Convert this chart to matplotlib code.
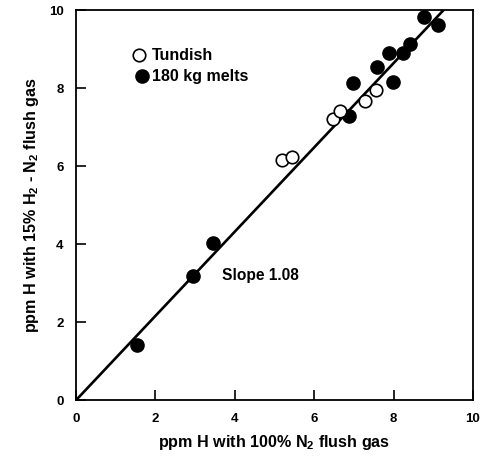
import numpy as np
import matplotlib.pyplot as plt

plt.rcParams['font.family'] = ['Liberation Sans', 'DejaVu Sans']
plt.rcParams['font.weight'] = 'bold'
plt.rcParams['mathtext.fontset'] = 'custom'
plt.rcParams['mathtext.rm'] = 'Liberation Sans:bold'
plt.rcParams['mathtext.default'] = 'rm'

# 180 kg melts (filled)
melt_x = [1.54, 2.94, 3.46, 6.88, 6.98, 7.58, 7.88, 7.98, 8.24, 8.42, 8.76, 9.12]
melt_y = [1.41, 3.18, 4.03, 7.29, 8.12, 8.55, 8.91, 8.16, 8.89, 9.12, 9.83, 9.62]

# tundish (open)
tund_x = [5.18, 5.43, 6.48, 6.66, 7.29, 7.55]
tund_y = [6.15, 6.24, 7.22, 7.41, 7.68, 7.95]

slope = 1.08
ticks = [0, 2, 4, 6, 8, 10]

fig = plt.figure(figsize=(4.82, 4.63), dpi=100)
ax = fig.add_axes([0.158, 0.136, 0.823, 0.842])

# fitted line through origin
xl = np.array([0, 10 / slope])
ax.plot(xl, slope * xl, color='black', lw=1.9, zorder=2)

ax.plot(melt_x, melt_y, 'o', ms=9.5, color='black', zorder=3)
ax.plot(tund_x, tund_y, 'o', ms=9, mfc='white', mec='black', mew=1.2, zorder=3)

# legend drawn by hand, like the original figure
ax.plot([1.59], [8.85], 'o', ms=9, mfc='white', mec='black', mew=1.2)
ax.text(1.9, 8.85, 'Tundish', fontsize=11.5, fontweight='bold', va='center')
ax.plot([1.65], [8.3], 'o', ms=9.5, color='black')
ax.text(1.9, 8.3, '180 kg melts', fontsize=11.5, fontweight='bold', va='center')

ax.text(3.67, 3.2, 'Slope 1.08', fontsize=11.2, fontweight='bold', va='center')

ax.set_xlim(0, 10)
ax.set_ylim(0, 10)
ax.set_xticks(ticks)
ax.set_yticks(ticks)
ax.tick_params(direction='in', length=7, width=1.2, labelsize=9.5, pad=9,
               top=False, right=False)
for lab in ax.get_xticklabels() + ax.get_yticklabels():
    lab.set_fontweight('bold')
for sp in ax.spines.values():
    sp.set_linewidth(1.3)

ax.set_xlabel('ppm H with 100% N$_2$ flush gas', fontsize=11.6, fontweight='bold', labelpad=6)
ax.set_ylabel('ppm H with 15% H$_2$ - N$_2$ flush gas', fontsize=11.6, fontweight='bold', labelpad=6)

fig.savefig('out.png', dpi=100)
